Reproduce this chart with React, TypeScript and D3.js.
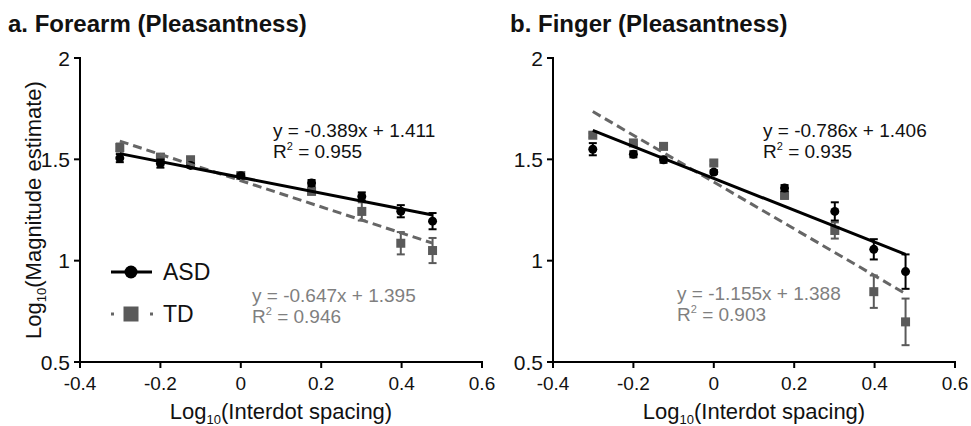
import React from 'react'
import * as d3 from 'd3'

const W = 971
const H = 426

// log10 interdot spacing
const spacing = [-0.301, -0.2, -0.125, 0, 0.176, 0.301, 0.398, 0.477]

const forearmASD = [1.506, 1.479, 1.47, 1.419, 1.383, 1.317, 1.244, 1.195]
const forearmASDErr = [0.02, 0.02, 0.01, 0.01, 0.015, 0.02, 0.03, 0.04]
const forearmTD = [1.558, 1.511, 1.498, 1.42, 1.342, 1.243, 1.086, 1.05]
const forearmTDErr = [0.02, 0.015, 0.01, 0.01, 0.015, 0.045, 0.055, 0.062]

const fingerASD = [1.55, 1.525, 1.498, 1.437, 1.358, 1.243, 1.056, 0.946]
const fingerASDErr = [0.03, 0.015, 0.015, 0.01, 0.015, 0.045, 0.05, 0.085]
const fingerTD = [1.619, 1.581, 1.564, 1.482, 1.322, 1.149, 0.847, 0.698]
const fingerTDErr = [0.01, 0.01, 0.01, 0.01, 0.015, 0.04, 0.08, 0.115]

// regression fits [slope, intercept, r2]
const forearmFitASD = [-0.389, 1.411, 0.955]
const forearmFitTD = [-0.647, 1.395, 0.946]
const fingerFitASD = [-0.786, 1.406, 0.935]
const fingerFitTD = [-1.155, 1.388, 0.903]

const xTicks = [-0.4, -0.2, 0, 0.2, 0.4, 0.6]
const yTicks = [0.5, 1, 1.5, 2]

const ASD_COLOR = '#000'
const TD_COLOR = '#5a5a5a'
const TD_TEXT = '#7f7f7f'
const FONT = '"Liberation Sans", Arial, sans-serif'

const fmtTick = (v: number) => (v === 0 ? '0' : String(+v.toFixed(1)))

const Series = ({ x, y, vals, errs, kind }: any) => {
  const color = kind === 'asd' ? ASD_COLOR : TD_COLOR
  return (
    <g>
      {vals.map((v: number, i: number) => {
        const cx = x(spacing[i])
        const y1 = y(v + errs[i])
        const y2 = y(v - errs[i])
        return (
          <g key={i} stroke={color} strokeWidth={2}>
            <line x1={cx} x2={cx} y1={y1} y2={y2} />
            <line x1={cx - 4} x2={cx + 4} y1={y1} y2={y1} />
            <line x1={cx - 4} x2={cx + 4} y1={y2} y2={y2} />
            {kind === 'asd'
              ? <circle cx={cx} cy={y(v)} r={4.5} fill={color} stroke="none" />
              : <rect x={cx - 4.5} y={y(v) - 4.5} width={9} height={9} fill={color} stroke="none" />}
          </g>
        )
      })}
    </g>
  )
}

const FitLine = ({ x, y, fit, kind }: any) => {
  const xs = [spacing[0], spacing[spacing.length - 1]]
  const line = d3.line<number>().x(d => x(d)).y(d => y(fit[0] * d + fit[1]))
  return (
    <path
      d={line(xs) || ''}
      fill="none"
      stroke={kind === 'asd' ? ASD_COLOR : '#666'}
      strokeWidth={3}
      strokeDasharray={kind === 'asd' ? undefined : '9,5'}
    />
  )
}

const Equation = ({ fit, tx, ty, color }: any) => {
  const sign = fit[1] >= 0 ? '+' : '-'
  return (
    <text x={tx} y={ty} fill={color} fontFamily={FONT} fontSize={19}>
      <tspan x={tx}>{`y = ${fit[0].toFixed(3)}x ${sign} ${Math.abs(fit[1]).toFixed(3)}`}</tspan>
      <tspan x={tx} dy={21}>R</tspan>
      <tspan fontSize={11} dy={-8}>2</tspan>
      <tspan dy={8}>{` = ${fit[2].toFixed(3)}`}</tspan>
    </text>
  )
}

const Panel = ({ x0, x1, title, titleX, asd, asdErr, td, tdErr, fitA, fitT, eqA, eqT, yTitle, legend }: any) => {
  const x = d3.scaleLinear().domain([-0.4, 0.6]).range([x0, x1])
  const y = d3.scaleLinear().domain([0.5, 2]).range([362, 58])
  const yB = y(0.5)
  return (
    <g>
      <text x={titleX} y={32} fontFamily={FONT} fontWeight="bold" fontSize={24} fill="#111">{title}</text>

      {/* axes */}
      <g stroke="#000" strokeWidth={2} fill="none">
        <line x1={x0} x2={x0} y1={y(2) - 1} y2={yB + 1} />
        <line x1={x0 - 1} x2={x1 + 1} y1={yB} y2={yB} />
        {yTicks.map(t => <line key={t} x1={x0 - 6} x2={x0} y1={y(t)} y2={y(t)} />)}
        {xTicks.map(t => <line key={t} x1={x(t)} x2={x(t)} y1={yB} y2={yB + 6} />)}
      </g>
      {yTicks.map(t => (
        <text key={t} x={x0 - 10} y={y(t) + 7.5} textAnchor="end" fontFamily={FONT} fontSize={21} fill="#111">{fmtTick(t)}</text>
      ))}
      {xTicks.map(t => (
        <text key={t} x={x(t)} y={390} textAnchor="middle" fontFamily={FONT} fontSize={19} fill="#111">{fmtTick(t)}</text>
      ))}
      <text x={(x0 + x1) / 2} y={419} textAnchor="middle" fontFamily={FONT} fontSize={22} fill="#111">
        Log<tspan fontSize={13} dy={5}>10</tspan><tspan dy={-5}>(Interdot spacing)</tspan>
      </text>
      {yTitle && (
        <text transform={`translate(41,${(y(2) + yB) / 2}) rotate(-90)`} textAnchor="middle" fontFamily={FONT} fontSize={22} fill="#111">
          Log<tspan fontSize={13} dy={5}>10</tspan><tspan dy={-5}>(Magnitude estimate)</tspan>
        </text>
      )}

      <Series x={x} y={y} vals={td} errs={tdErr} kind="td" />
      <Series x={x} y={y} vals={asd} errs={asdErr} kind="asd" />
      <FitLine x={x} y={y} fit={fitT} kind="td" />
      <FitLine x={x} y={y} fit={fitA} kind="asd" />

      <Equation fit={fitA} tx={eqA[0]} ty={eqA[1]} color="#111" />
      <Equation fit={fitT} tx={eqT[0]} ty={eqT[1]} color={TD_TEXT} />

      {legend && (
        <g>
          <line x1={111} x2={152} y1={272} y2={272} stroke={ASD_COLOR} strokeWidth={3} />
          <circle cx={131} cy={272} r={6.5} fill={ASD_COLOR} />
          <text x={163} y={280} fontFamily={FONT} fontSize={23} fill="#111">ASD</text>
          <line x1={111} x2={153} y1={314} y2={314} stroke="#666" strokeWidth={3} strokeDasharray="3,36" />
          <rect x={123.5} y={306.5} width={15} height={15} fill={TD_COLOR} />
          <text x={163} y={322} fontFamily={FONT} fontSize={23} fill="#111">TD</text>
        </g>
      )}
    </g>
  )
}

export default function App() {
  return (
    <svg width={W} height={H} style={{ position: 'absolute', left: 0, top: 0, background: '#fff' }}>
      <rect width={W} height={H} fill="#fff" />
      <Panel
        x0={80} x1={482} title="a. Forearm (Pleasantness)" titleX={8}
        asd={forearmASD} asdErr={forearmASDErr} td={forearmTD} tdErr={forearmTDErr}
        fitA={forearmFitASD} fitT={forearmFitTD}
        eqA={[273, 137]} eqT={[252, 302]} yTitle legend
      />
      <Panel
        x0={553} x1={955} title="b. Finger (Pleasantness)" titleX={510}
        asd={fingerASD} asdErr={fingerASDErr} td={fingerTD} tdErr={fingerTDErr}
        fitA={fingerFitASD} fitT={fingerFitTD}
        eqA={[763, 137]} eqT={[677, 300]}
      />
    </svg>
  )
}
